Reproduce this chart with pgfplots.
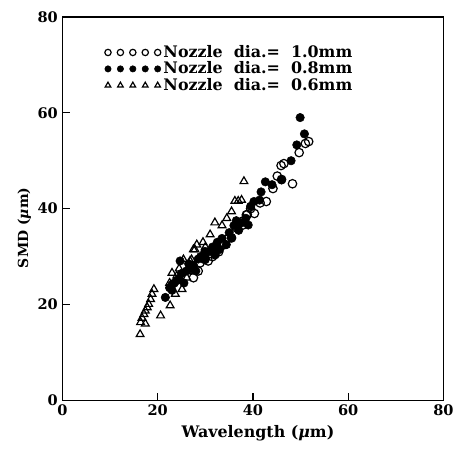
\documentclass[border=0pt]{standalone}
\usepackage{pgfplots}
\pgfplotsset{compat=1.18}
\usepackage{fontspec}
\setmainfont{DejaVu Serif}
\begin{document}
\begin{tikzpicture}
\begin{axis}[
  scale only axis, width=288pt, height=290pt,
  xmin=0, xmax=80, ymin=0, ymax=80,
  xtick={0,20,...,80}, ytick={0,20,...,80},
  tick pos=left, tick align=inside, major tick length=6pt,
  axis line style={line width=1pt},
  tick style={line width=0.8pt, black},
  ticklabel style={font=\bfseries\fontsize{11}{13}\selectfont},
  /pgf/number format/assume math mode=true,
  xlabel={Wavelength ({\itshape μ}m)},
  ylabel={SMD ({\itshape μ}m)},
  xlabel style={font=\bfseries\fontsize{12}{14}\selectfont, at={(rel axis cs:0.513,-0.085)}, anchor=center},
  ylabel style={font=\bfseries\fontsize{10.5}{12}\selectfont, at={(rel axis cs:-0.1,0.45)}, anchor=center},
  legend style={draw=none, fill=none, at={(rel axis cs:0.1,0.94)}, anchor=north west,
    font=\bfseries\fontsize{12}{14}\selectfont, row sep=-2.2pt},
  legend cell align=left,
  legend image code/.code={\draw[#1,mark size=2.4pt] plot[only marks] coordinates {(0cm,0cm)(0.33cm,0cm)(0.66cm,0cm)(0.99cm,0cm)(1.32cm,0cm)};},
  clip=false,
]
% 1.0 mm nozzle
\addplot[only marks, mark=o, mark size=3.2pt, mark options={line width=0.9pt, black}] coordinates {
  (51.7,54.0) (51.0,53.6) (49.7,51.7) (45.9,49.0) (46.5,49.4) (45.1,46.8) (46.0,46.1)
  (48.3,45.2) (44.2,44.2) (42.8,41.5) (41.5,41.2) (40.3,39.0) (38.8,38.8) (38.6,38.7)
  (37.9,36.6) (35.5,33.9) (34.8,33.8) (32.0,30.4) (32.8,31.0) (29.9,29.4) (28.9,28.7)
  (27.5,25.6) (26.8,27.3) (39.5,40.0) (36.5,36.0) (34.0,32.5) (31.5,30.0) (28.5,27.0)
  (33.5,33.0) (38.0,37.5) (30.6,29.1)
};
% 0.8 mm nozzle
\addplot[only marks, mark=*, mark size=3.2pt, mark options={black, fill=black}] coordinates {
  (49.9,59.0) (50.8,55.6) (49.2,53.3) (48.0,50.0) (42.6,45.6) (41.7,43.5) (41.4,41.8)
  (40.2,41.5) (39.5,40.5) (38.5,38.0) (37.5,37.0) (36.5,37.5) (36.0,36.5) (35.0,35.0)
  (34.4,32.5) (33.5,33.8) (32.5,33.0) (31.5,32.0) (30.5,31.0) (29.9,31.1) (29.0,30.0)
  (28.5,29.5) (27.5,28.2) (27.0,27.5) (26.5,28.5) (26.0,27.0) (25.0,26.5) (24.5,25.5)
  (24.7,29.1) (24.0,25.0) (23.5,24.5) (23.0,24.2) (23.0,23.0) (22.5,23.5) (21.6,21.5)
  (25.5,24.5) (28.0,27.0) (30.0,29.5) (33.0,31.5) (37.0,35.5) (39.0,36.6) (44.0,45.0)
  (46.0,46.0) (35.5,34.0) (32.0,30.5)
};
% 0.6 mm nozzle
\addplot[only marks, mark=triangle, mark size=3.4pt, mark options={line width=0.9pt, black}] coordinates {
  (38.1,45.7) (37.6,41.8) (36.9,41.6) (36.2,41.6) (35.5,39.4) (32.0,37.1) (31.0,34.6)
  (28.2,32.5) (27.5,31.5) (27.8,31.5) (25.4,29.4) (27.1,29.4) (26.8,29.1) (23.0,26.6)
  (26.1,25.6) (25.1,23.2) (23.7,22.2) (22.6,19.8) (20.6,17.7) (19.2,23.2) (18.8,22.2)
  (18.5,21.1) (18.1,20.1) (17.8,19.4) (17.4,18.7) (17.1,18.0) (16.7,17.2) (16.4,16.3)
  (17.4,16.0) (16.3,13.8) (24.5,27.5) (29.5,33.0) (33.5,36.5) (30.0,32.0) (24.0,26.0)
  (22.5,24.5) (34.5,38.0)
};
\legend{Nozzle\ \ dia.=\ \ 1.0mm, Nozzle\ \ dia.=\ \ 0.8mm, Nozzle\ \ dia.=\ \ 0.6mm}
\path (rel axis cs:-0.164,-0.1395) rectangle (rel axis cs:1.0286,1.044);
\end{axis}
\end{tikzpicture}
\end{document}
